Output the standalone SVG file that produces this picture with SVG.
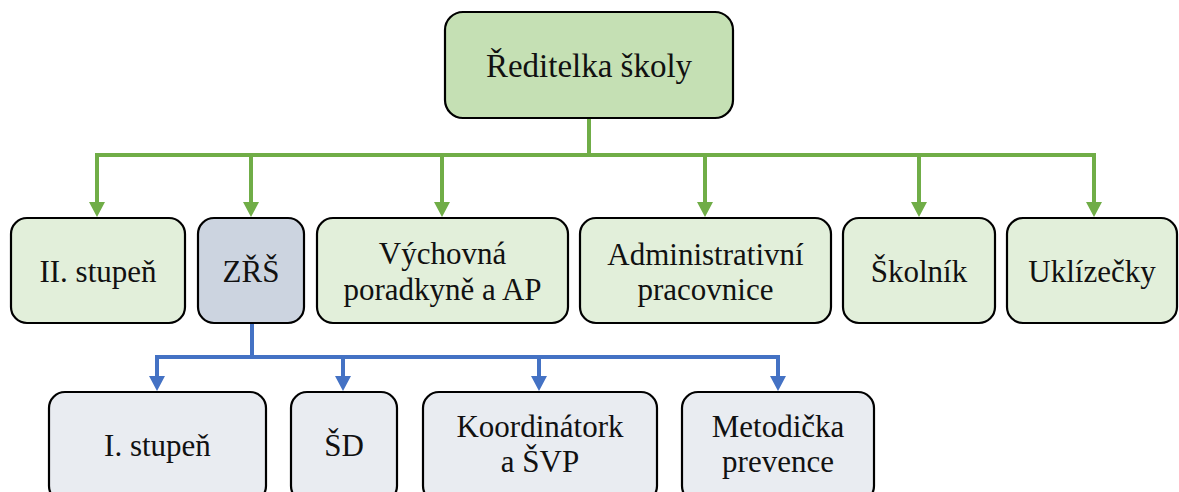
<svg xmlns="http://www.w3.org/2000/svg" width="1179" height="492" viewBox="0 0 1179 492">
<style>
.box{stroke:#000;stroke-width:2.2}
.top{fill:#C5E0B4}
.g{fill:#E2EFDA}
.z{fill:#CCD4E0}
.b{fill:#E9ECF1}
text{font-family:"Liberation Serif","Times New Roman",serif;font-size:31px;fill:#111;text-anchor:middle}
.gl{stroke:#70AD47;stroke-width:4;fill:none}
.bl{stroke:#4472C4;stroke-width:4;fill:none}
</style>
<defs>
<marker id="ag" markerUnits="userSpaceOnUse" markerWidth="15" markerHeight="16" viewBox="0 0 15 16" refX="0" refY="8" orient="auto"><path d="M0,0 L15,8 L0,16 Z" fill="#70AD47"/></marker>
<marker id="ab" markerUnits="userSpaceOnUse" markerWidth="15" markerHeight="16" viewBox="0 0 15 16" refX="0" refY="8" orient="auto"><path d="M0,0 L15,8 L0,16 Z" fill="#4472C4"/></marker>
</defs>
<rect width="1179" height="492" fill="#fff"/>
<g id="connectors">
<path class="gl" d="M589,118 V155 M95,155 H1096"/>
<path class="gl" marker-end="url(#ag)" d="M97,155 V202"/>
<path class="gl" marker-end="url(#ag)" d="M251,155 V202"/>
<path class="gl" marker-end="url(#ag)" d="M442,155 V202"/>
<path class="gl" marker-end="url(#ag)" d="M705,155 V202"/>
<path class="gl" marker-end="url(#ag)" d="M919,155 V202"/>
<path class="gl" marker-end="url(#ag)" d="M1094,155 V202"/>
<path class="bl" d="M252,323 V357 M155,357 H780"/>
<path class="bl" marker-end="url(#ab)" d="M157,357 V376"/>
<path class="bl" marker-end="url(#ab)" d="M343,357 V376"/>
<path class="bl" marker-end="url(#ab)" d="M539,357 V376"/>
<path class="bl" marker-end="url(#ab)" d="M778,357 V376"/>
</g>
<g id="reditelka"><rect class="box top" x="445" y="12" width="288" height="106" rx="18"/><text x="589" y="77" style="font-size:33px">Ředitelka školy</text></g>
<g id="ii-stupen"><rect class="box g" x="11" y="218" width="174" height="105" rx="16"/><text x="98" y="282">II. stupeň</text></g>
<g id="zrs"><rect class="box z" x="198" y="218" width="106" height="105" rx="16"/><text x="251" y="282">ZŘŠ</text></g>
<g id="vychovna"><rect class="box g" x="317" y="218" width="251" height="105" rx="16"/><text x="442.5" y="264">Výchovná</text><text x="442.5" y="300">poradkyně a AP</text></g>
<g id="administrativni"><rect class="box g" x="580" y="218" width="251" height="105" rx="16"/><text x="705.5" y="265">Administrativní</text><text x="705.5" y="300">pracovnice</text></g>
<g id="skolnik"><rect class="box g" x="843" y="218" width="152" height="105" rx="16"/><text x="919" y="282">Školník</text></g>
<g id="uklizecky"><rect class="box g" x="1007" y="218" width="170" height="105" rx="16"/><text x="1092" y="282">Uklízečky</text></g>
<g id="i-stupen"><rect class="box b" x="49" y="392" width="217" height="110" rx="16"/><text x="157.5" y="456">I. stupeň</text></g>
<g id="sd"><rect class="box b" x="291" y="392" width="106" height="110" rx="16"/><text x="344" y="456">ŠD</text></g>
<g id="koordinatork"><rect class="box b" x="423" y="392" width="234" height="110" rx="16"/><text x="540" y="437">Koordinátork</text><text x="540" y="472">a ŠVP</text></g>
<g id="metodicka"><rect class="box b" x="682" y="392" width="192" height="110" rx="16"/><text x="778" y="437">Metodička</text><text x="778" y="472">prevence</text></g>
</svg>
